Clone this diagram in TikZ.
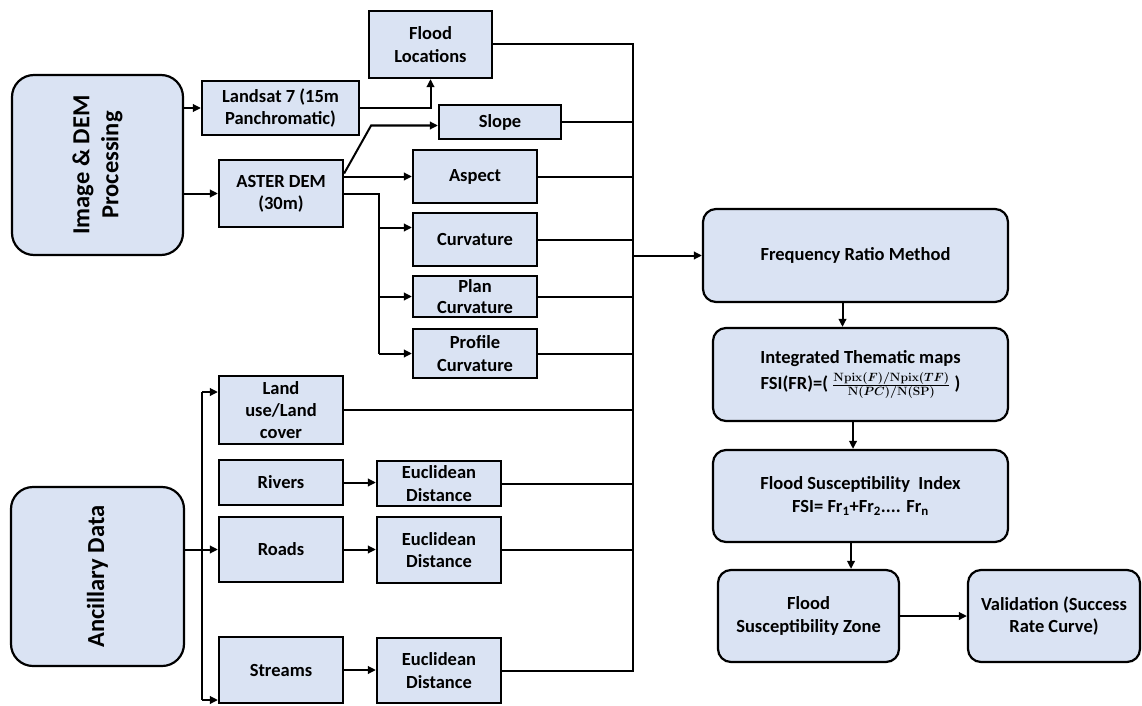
\documentclass[tikz,border=0pt]{standalone}
\usepackage[no-math]{fontspec}
\setmainfont{Carlito}
\usepackage{amsmath}
\usetikzlibrary{arrows.meta,calc}
\definecolor{boxfill}{HTML}{DAE3F3}
\tikzset{
  box/.style={draw=black, line width=2.2pt, fill=boxfill, align=center, inner sep=0pt,
    font=\bfseries\fontsize{18.5}{22.3}\selectfont},
  rbox/.style={box, rounded corners=13pt},
  bigbox/.style={box, rounded corners=22pt},
  vlabel/.style={rotate=90, align=center, inner sep=0pt, font=\bfseries\fontsize{24.5}{29}\selectfont},
  conn/.style={line width=2pt, draw=black},
  arr/.style={conn, -{Triangle[length=8pt,width=7.5pt]}},
}
\begin{document}
\begin{tikzpicture}[x=1pt,y=-1pt]
\useasboundingbox (0,0) rectangle (1142,706);
% left big boxes
\node[bigbox, minimum width=171pt, minimum height=180pt] (img) at (97.5,165) {};
\node[vlabel] (imgt) at (img.center) {Image \& DEM\\Processing};
\node[bigbox, minimum width=173pt, minimum height=179pt] (anc) at (97.5,576.5) {};
\node[vlabel] (anct) at (anc.center) {Ancillary Data};
% upper column
\node[box, minimum width=157pt, minimum height=54pt] (landsat) at (280.5,108) {Landsat 7 (15m\\Panchromatic)};
\node[box, minimum width=123pt, minimum height=67pt] (flood) at (430.5,44.5) {Flood\\Locations};
\node[box, minimum width=122pt, minimum height=34pt] (slope) at (500,122) {Slope};
\node[box, minimum width=124pt, minimum height=67pt] (aster) at (281,193.5) {ASTER DEM\\(30m)};
\node[box, minimum width=124pt, minimum height=53pt] (aspect) at (475,176.5) {Aspect};
\node[box, minimum width=124pt, minimum height=53pt] (curv) at (475,239.5) {Curvature};
\node[box, minimum width=124pt, minimum height=41pt, font=\bfseries\fontsize{18.5}{21}\selectfont] (plan) at (475,296.5) {Plan\\Curvature};
\node[box, minimum width=124pt, minimum height=49pt] (prof) at (475,353.5) {Profile\\Curvature};
% lower column
\node[box, minimum width=124pt, minimum height=68pt] (land) at (281,410) {Land\\use/Land\\cover};
\node[box, minimum width=124pt, minimum height=45pt] (rivers) at (281,482.5) {Rivers};
\node[box, minimum width=124pt, minimum height=45pt] (eu1) at (439,483.5) {Euclidean\\Distance};
\node[box, minimum width=124pt, minimum height=65pt] (roads) at (281,549.5) {Roads};
\node[box, minimum width=124pt, minimum height=66pt] (eu2) at (439,550) {Euclidean\\Distance};
\node[box, minimum width=124pt, minimum height=66pt] (streams) at (281,670) {Streams};
\node[box, minimum width=124pt, minimum height=65pt] (eu3) at (439,670.5) {Euclidean\\Distance};
% right column
\node[rbox, minimum width=305pt, minimum height=93pt] (fr) at (855.5,255.5) {Frequency Ratio Method};
\node[rbox, minimum width=295pt, minimum height=93pt] (integ) at (860.5,374.5)
  {Integrated Thematic maps\\[4pt]FSI(FR)=( {\fontsize{16.5}{18}\selectfont\boldmath$\frac{\mathrm{Npix}(F)/\mathrm{Npix}(TF)}{\mathrm{N}(PC)/\mathrm{N(SP)}}$} )};
\node[rbox, minimum width=295pt, minimum height=92pt] (fsi) at (860.5,496)
  {Flood Susceptibility\ \ Index\\[1pt]FSI= Fr\textsubscript{1}+Fr\textsubscript{2}.... Fr\textsubscript{n}};
\node[rbox, minimum width=181pt, minimum height=92pt] (zone) at (808.5,616) {Flood\\Susceptibility Zone};
\node[rbox, minimum width=172pt, minimum height=92pt] (valid) at (1054,616) {Validation (Success\\Rate Curve)};
% bus coordinates
\coordinate (rb) at (633,0);
\coordinate (lb) at (202,0);
\coordinate (ab) at (379,0);
% image & DEM connectors
\draw[arr] (img.east |- landsat.west) -- (landsat.west);
\draw[arr] (img.east |- aster.west) -- (aster.west);
\draw[arr] (landsat.east) -| (flood.south);
\coordinate (as) at ([yshift=20pt]aster.east);
\draw[arr] (as) -- ++(27,-48) coordinate (sb) -- (sb -| slope.west);
\draw[arr] (aster.east |- aspect.west) -- (aspect.west);
\draw[conn] (aster.east) -| (ab |- prof.west);
\coordinate (ca) at ([yshift=12pt]curv.west);
\draw[arr] (ab |- ca) -- (ca);
\draw[arr] (ab |- plan.west) -- (plan.west);
\draw[arr] (ab |- prof.west) -- (prof.west);
% right bus
\draw[conn] (flood.east) -| (rb |- eu3.east) -- (eu3.east);
\foreach \n in {slope,aspect,curv,plan,prof,land,eu1,eu2} \draw[conn] (\n.east) -- (rb |- \n.east);
\draw[arr] (rb |- fr.west) -- (fr.west);
% ancillary connectors
\coordinate (la) at ([yshift=18pt]land.west);
\coordinate (sa) at ([yshift=-30pt]streams.west);
\draw[conn] (lb |- la) -- (lb |- sa);
\draw[arr] (lb |- la) -- (la);
\draw[arr] (lb |- sa) -- (sa);
\draw[arr] (anc.east |- roads.west) -- (roads.west);
\draw[arr] (rivers.east) -- (rivers.east -| eu1.west);
\draw[arr] (roads.east) -- (roads.east -| eu2.west);
\draw[arr] (streams.east) -- (streams.east -| eu3.west);
% right column connectors
\coordinate (f1) at ([xshift=-13pt]fr.south);
\draw[arr] (f1) -- (f1 |- integ.north);
\coordinate (f2) at ([xshift=-7.5pt]integ.south);
\draw[arr] (f2) -- (f2 |- fsi.north);
\coordinate (f3) at ([xshift=-9.5pt]fsi.south);
\draw[arr] (f3) -- (f3 |- zone.north);
\draw[arr] (zone.east) -- (valid.west);
\end{tikzpicture}
\end{document}
